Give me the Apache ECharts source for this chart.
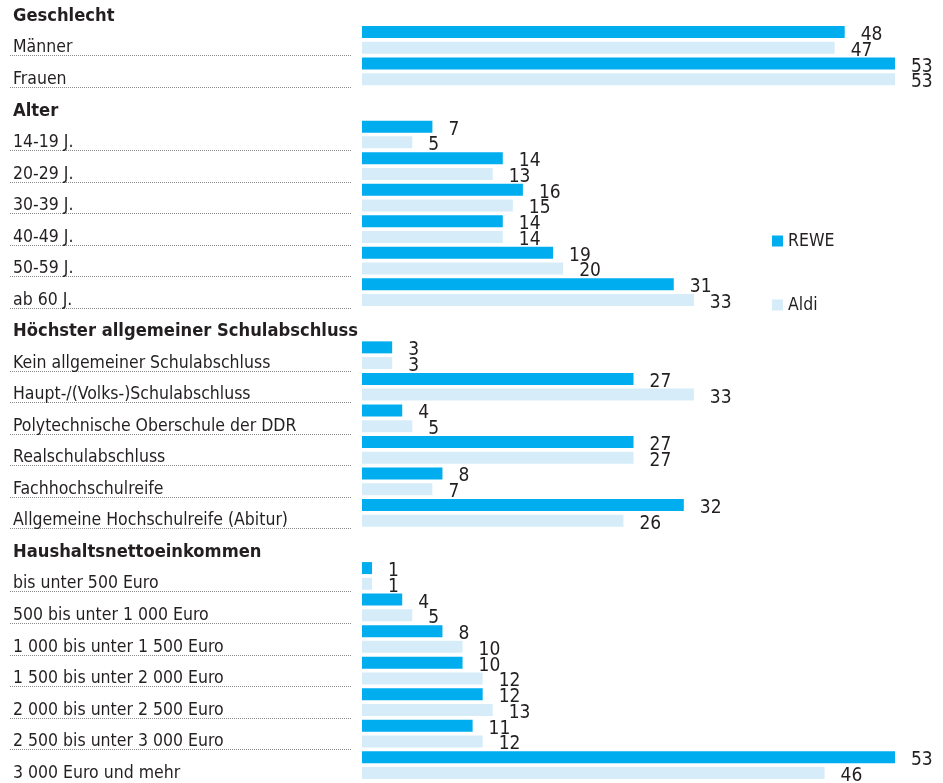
<!DOCTYPE html>
<html>
<head>
<meta charset="utf-8">
<script src="https://cdn.jsdelivr.net/npm/echarts@6/dist/echarts.min.js"></script>
<style>
html,body{margin:0;padding:0;background:#fff;}
#chart{width:943px;height:783px;}
</style>
</head>
<body>
<div id="chart"></div>
<script>
const seriesNames = ['REWE', 'Aldi'];

const groupTitles = ['Geschlecht', 'Alter', 'Höchster allgemeiner Schulabschluss', 'Haushaltsnettoeinkommen'];

const sexCats = ['Männer', 'Frauen'];
const sexRewe = [48, 53];
const sexAldi = [47, 53];

const ageCats = ['14-19 J.', '20-29 J.', '30-39 J.', '40-49 J.', '50-59 J.', 'ab 60 J.'];
const ageRewe = [7, 14, 16, 14, 19, 31];
const ageAldi = [5, 13, 15, 14, 20, 33];

const eduCats = ['Kein allgemeiner Schulabschluss', 'Haupt-/(Volks-)Schulabschluss', 'Polytechnische Oberschule der DDR', 'Realschulabschluss', 'Fachhochschulreife', 'Allgemeine Hochschulreife (Abitur)'];
const eduRewe = [3, 27, 4, 27, 8, 32];
const eduAldi = [3, 33, 5, 27, 7, 26];

const incCats = ['bis unter 500 Euro', '500 bis unter 1 000 Euro', '1 000 bis unter 1 500 Euro', '1 500 bis unter 2 000 Euro', '2 000 bis unter 2 500 Euro', '2 500 bis unter 3 000 Euro', '3 000 Euro und mehr'];
const incRewe = [1, 4, 8, 10, 12, 11, 53];
const incAldi = [1, 5, 10, 12, 13, 12, 46];

const groups = [
  [groupTitles[0], sexCats, sexRewe, sexAldi],
  [groupTitles[1], ageCats, ageRewe, ageAldi],
  [groupTitles[2], eduCats, eduRewe, eduAldi],
  [groupTitles[3], incCats, incRewe, incAldi]
];

const allCats = [], reweData = [], aldiData = [], isHeader = [];
groups.forEach(function (g) {
  allCats.push(g[0]); reweData.push('-'); aldiData.push('-'); isHeader.push(true);
  g[1].forEach(function (c, i) {
    allCats.push(c); reweData.push(g[2][i]); aldiData.push(g[3][i]); isHeader.push(false);
  });
});
// separator rows: all but the last row (no rule under the final row)
const sepCats = allCats.slice(0, allCats.length - 1);

const FONT = '"DejaVu Sans Condensed", "Liberation Sans", sans-serif';
const TXT = '#231f20';
const TOP = -7.4, HEIGHT = 788.3;
const SEP_HEIGHT = HEIGHT * sepCats.length / allCats.length;

const chart = echarts.init(document.getElementById('chart'), null, {renderer: 'canvas'});
chart.setOption({
  animation: false,
  backgroundColor: '#fff',
  textStyle: {fontFamily: FONT, color: TXT},
  legend: {
    data: seriesNames,
    orient: 'vertical',
    left: 767,
    top: 227,
    icon: 'rect',
    itemWidth: 11,
    itemHeight: 11,
    itemGap: 46,
    textStyle: {fontFamily: FONT, fontSize: 17.5, color: TXT}
  },
  grid: [
    {left: 362, width: 533, top: TOP, height: HEIGHT, containLabel: false, outerBoundsMode: 'none'},
    {left: 10, width: 342, top: TOP, height: SEP_HEIGHT, containLabel: false, outerBoundsMode: 'none'}
  ],
  xAxis: [
    {type: 'value', gridIndex: 0, min: 0, max: 53, show: false},
    {type: 'value', gridIndex: 1, min: 0, max: 1, show: false}
  ],
  yAxis: [
    {
      type: 'category', gridIndex: 0, inverse: true, data: allCats,
      axisLine: {show: false}, axisTick: {show: false}, splitLine: {show: false},
      axisLabel: {
        show: true, interval: 0, align: 'left', margin: 349,
        formatter: function (v, i) { return isHeader[i] ? '{h|' + v + '}' : '{c|' + v + '}'; },
        rich: {
          h: {fontFamily: FONT, fontSize: 18.2, fontWeight: 'bold', color: TXT, padding: [16, 0, 0, 0]},
          c: {fontFamily: FONT, fontSize: 17.5, color: TXT, padding: [16, 0, 0, 0]}
        }
      }
    },
    {
      type: 'category', gridIndex: 1, inverse: true, data: sepCats,
      axisLine: {show: false}, axisTick: {show: false}, axisLabel: {show: false},
      splitLine: {
        show: true,
        interval: function (i) { return i > 0 && !isHeader[i - 1]; },
        lineStyle: {type: [1, 1], color: '#8a8a8a', width: 1}
      }
    }
  ],
  series: [
    {
      name: seriesNames[0], type: 'bar', xAxisIndex: 0, yAxisIndex: 0, data: reweData,
      barWidth: 12, barGap: '31%',
      itemStyle: {color: '#00adef'},
      label: {show: true, position: 'right', distance: 16, offset: [0, 3], fontFamily: FONT, fontSize: 19, color: TXT}
    },
    {
      name: seriesNames[1], type: 'bar', xAxisIndex: 0, yAxisIndex: 0, data: aldiData,
      barWidth: 12, barGap: '31%',
      itemStyle: {color: '#d6edf9'},
      label: {show: true, position: 'right', distance: 16, offset: [0, 3], fontFamily: FONT, fontSize: 19, color: TXT}
    }
  ]
});
</script>
</body>
</html>
